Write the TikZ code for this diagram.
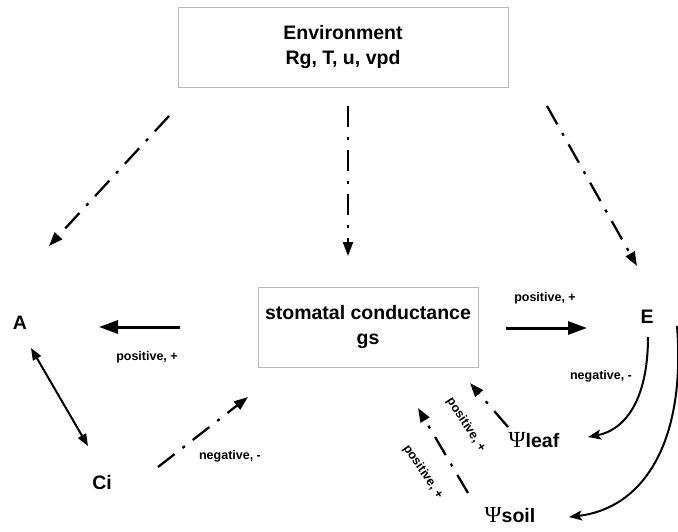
\documentclass[tikz,border=0pt]{standalone}
\usepackage{fontspec}
\setmainfont{Liberation Sans}
\newfontfamily\psifont{Liberation Serif}
\usetikzlibrary{arrows.meta}
\begin{document}
\begin{tikzpicture}[x=1pt,y=-1pt,
  box/.style={draw=black!28,line width=0.9pt,align=center,font=\fontsize{19.5}{25}\selectfont\bfseries,inner sep=0pt},
  big/.style={font=\fontsize{19.5}{23}\selectfont\bfseries,inner sep=0pt},
  lbl/.style={font=\fontsize{12.5}{14}\selectfont\bfseries,inner sep=0pt},
  dd/.style={line width=2.3pt,dash pattern=on 21pt off 10pt on 3pt off 10pt,-{Triangle[length=14pt,width=10pt]}},
  thick arr/.style={line width=3pt,-{Triangle[length=19pt,width=13pt]}},
  curv/.style={line width=2pt,-{Stealth[length=13pt,width=10pt,inset=3pt]}},
  dbl/.style={line width=2pt,{Triangle[length=12pt,width=9pt]}-{Triangle[length=12pt,width=9pt]}}
]
\useasboundingbox (0,0) rectangle (678,531);
\fill[white] (0,0) rectangle (678,531);

\node[box,minimum width=330pt,minimum height=80pt] (env) at (343,47) {Environment\\Rg, T, u, vpd};
\node[box,minimum width=220pt,minimum height=80pt] (gs) at (368,327) {stomatal conductance\\gs};
\node[big] (A) at (20,323) {A};
\node[big] (E) at (647,317) {E};
\node[big] (Ci) at (102,483) {Ci};
\node[big] (leaf) at (534,440) {{\psifont\mdseries\fontsize{23}{23}\selectfont Ψ}leaf};
\node[big] (soil) at (510,515) {{\psifont\mdseries\fontsize{23}{23}\selectfont Ψ}soil};

% connector end points
\coordinate (envL) at (169,116); \coordinate (tipA) at (49,246);
\coordinate (envC) at (348,106); \coordinate (tipC) at (348,256);
\coordinate (envR) at (547,106); \coordinate (tipE) at (637,266);
\coordinate (gsL) at (180,327); \coordinate (toA) at (99,327);
\coordinate (gsR) at (506,328); \coordinate (toE) at (587,328);
\coordinate (Abot) at (31,348); \coordinate (Citop) at (88,446);
\coordinate (Ciout) at (158,467); \coordinate (toGs1) at (248,397);
\coordinate (leafout) at (508,427); \coordinate (toGs2) at (470,383);
\coordinate (soilout) at (468,493); \coordinate (toGs3) at (418,408);
\coordinate (Eb) at (648,337); \coordinate (toLeaf) at (588,437);
\coordinate (Er) at (677,326); \coordinate (toSoil) at (569,517);

\draw[dd] (envL) -- (tipA);
\draw[dd] (envC) -- (tipC);
\draw[dd] (envR) -- (tipE);
\draw[thick arr] (gsL) -- (toA);
\draw[thick arr] (gsR) -- (toE);
\draw[dbl] (Abot) -- (Citop);
\draw[dd] (Ciout) -- (toGs1);
\draw[dd] (leafout) -- (toGs2);
\draw[dd] (soilout) -- (toGs3);
\draw[curv] (Eb) .. controls (648,400) and (625,430) .. (toLeaf);
\draw[curv] (Er) .. controls (686,440) and (645,508) .. (toSoil);

\node[lbl] (l1) at (147,357) {positive, +};
\node[lbl] (l2) at (545,298) {positive, +};
\node[lbl] (l3) at (230,456) {negative, -};
\node[lbl] (l4) at (601,376) {negative, -};
\node[lbl,rotate=-57] (l5) at (466,425) {positive, +};
\node[lbl,rotate=-56] (l6) at (423,472) {positive, +};
\end{tikzpicture}
\end{document}
